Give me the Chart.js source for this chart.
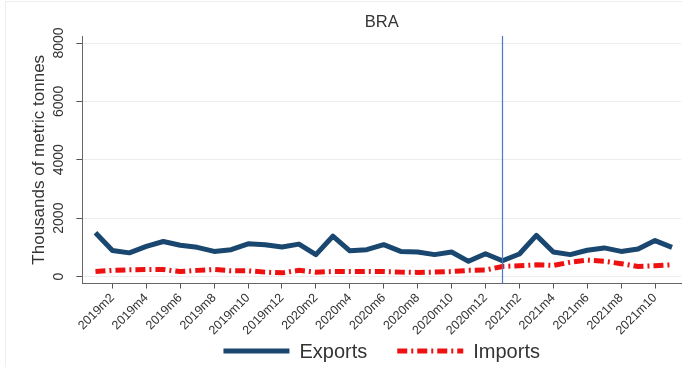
<!DOCTYPE html>
<html>
<head>
<meta charset="utf-8">
<script src="https://cdn.jsdelivr.net/npm/chart.js@4.4.0/dist/chart.umd.min.js"></script>
<style>
  html, body { margin: 0; padding: 0; background: #fff; }
</style>
</head>
<body>
<canvas id="tradeChart" width="682" height="367"></canvas>
<script>
// monthly series, 2019m1 .. 2021m11
var months = [
  '2019m1', '2019m2', '2019m3', '2019m4', '2019m5', '2019m6', '2019m7', '2019m8', '2019m9', '2019m10', '2019m11', '2019m12',
  '2020m1', '2020m2', '2020m3', '2020m4', '2020m5', '2020m6', '2020m7', '2020m8', '2020m9', '2020m10', '2020m11', '2020m12',
  '2021m1', '2021m2', '2021m3', '2021m4', '2021m5', '2021m6', '2021m7', '2021m8', '2021m9', '2021m10', '2021m11'
];
var exportsData = [
  1500, 890, 810, 1030, 1200, 1070, 1000, 860, 920, 1120, 1090, 1010,
  1110, 750, 1380, 880, 920, 1090, 860, 840, 750, 840, 520, 780,
  540, 770, 1410, 840, 750, 900, 980, 860, 940, 1230, 1000
];
var importsData = [
  170, 210, 230, 240, 240, 170, 210, 240, 195, 195, 150, 125,
  210, 150, 170, 170, 170, 170, 150, 140, 150, 170, 210, 220,
  345, 370, 400, 380, 490, 560, 520, 440, 345, 370, 400
];
var yTicks = [0, 2000, 4000, 6000, 8000];
var breakMonth = '2021m1';
var country = 'BRA';

var font = 'Liberation Sans, Arial, sans-serif';
var navy = '#1a476f';
var red = '#ee1111';
var importsDash = [10, 4, 2, 4];

function toPoints(arr) {
    return arr.map((v, i) => ({ x: i, y: v }));
}

// title over the plot region, vertical y labels, break line and legend keys
var stataExtras = {
    id: 'stataExtras',
    beforeDraw: function (chart) {
        var c = chart.ctx;
        c.save();
        c.fillStyle = '#fff';
        c.fillRect(0, 0, chart.width, chart.height);
        c.strokeStyle = '#eeeeee';
        c.lineWidth = 1;
        c.strokeRect(5.5, 1.5, chart.width - 4, chart.height);
        c.restore();
    },
    afterDatasetsDraw: function (chart) {
        var c = chart.ctx;
        var xs = chart.scales.x;
        var area = chart.chartArea;
        var bx = Math.round(xs.getPixelForValue(months.indexOf(breakMonth))) + 0.5;
        c.save();
        c.strokeStyle = '#4a78c8';
        c.lineWidth = 1.2;
        c.beginPath();
        c.moveTo(bx, area.top);
        c.lineTo(bx, area.bottom);
        c.stroke();
        c.restore();
    },
    afterDraw: function (chart) {
        var c = chart.ctx;
        var ys = chart.scales.y;
        var area = chart.chartArea;
        c.save();

        // title
        c.fillStyle = '#333';
        c.font = '16.5px ' + font;
        c.textAlign = 'center';
        c.textBaseline = 'middle';
        c.fillText(country, (area.left + area.right) / 2, 22);

        // y tick labels, rotated
        c.font = '14px ' + font;
        yTicks.forEach(function (t) {
            c.save();
            c.translate(59, ys.getPixelForValue(t));
            c.rotate(-Math.PI / 2);
            c.fillText(String(t), 0, 0);
            c.restore();
        });

        // legend
        var items = [
            { text: 'Exports', color: navy, dash: [] },
            { text: 'Imports', color: red, dash: importsDash }
        ];
        var keyW = 66, gapText = 10, gapItem = 30, ly = 351;
        c.font = '20px ' + font;
        var total = 0;
        items.forEach(function (it) {
            it.w = keyW + gapText + c.measureText(it.text).width;
            total += it.w;
        });
        total += gapItem * (items.length - 1);
        var lx = (area.left + area.right) / 2 - total / 2;
        c.textAlign = 'left';
        items.forEach(function (it) {
            c.strokeStyle = it.color;
            c.lineWidth = 5;
            c.setLineDash(it.dash);
            c.beginPath();
            c.moveTo(lx, ly);
            c.lineTo(lx + keyW, ly);
            c.stroke();
            c.setLineDash([]);
            c.fillStyle = '#333';
            c.fillText(it.text, lx + keyW + gapText, ly + 1);
            lx += it.w + gapItem;
        });
        c.restore();
    }
};

var ctx = document.getElementById('tradeChart').getContext('2d');
var tradeChart = new Chart(ctx, {
    type: 'line',
    data: {
        datasets: [
            {
                label: 'Exports',
                data: toPoints(exportsData),
                borderColor: navy,
                backgroundColor: navy,
                borderWidth: 5,
                pointRadius: 0,
                tension: 0,
                borderJoinStyle: 'round',
                fill: false
            },
            {
                label: 'Imports',
                data: toPoints(importsData),
                borderColor: red,
                backgroundColor: red,
                borderWidth: 5,
                borderDash: importsDash,
                pointRadius: 0,
                tension: 0,
                fill: false
            }
        ]
    },
    options: {
        responsive: false,
        animation: false,
        layout: {
            padding: { left: 20, right: 1, top: 36, bottom: 27 }
        },
        scales: {
            x: {
                type: 'linear',
                min: -0.77,
                max: 34.53,
                afterBuildTicks: function (axis) {
                    var t = [];
                    for (let i = 1; i < months.length; i += 2) t.push({ value: i });
                    axis.ticks = t;
                },
                ticks: {
                    autoSkip: false,
                    minRotation: 45,
                    maxRotation: 45,
                    padding: 2,
                    color: '#333',
                    font: { family: font, size: 12.5 },
                    callback: function (val) {
                        return months[val];
                    }
                },
                grid: {
                    drawOnChartArea: false,
                    drawTicks: true,
                    tickLength: 5,
                    tickColor: '#555'
                },
                border: { color: '#666', width: 1 }
            },
            y: {
                min: -241,
                max: 8241,
                afterBuildTicks: function (axis) {
                    axis.ticks = yTicks.map((v) => ({ value: v }));
                },
                ticks: { display: false },
                grid: {
                    color: '#ececec',
                    lineWidth: 1,
                    drawTicks: true,
                    tickLength: 6,
                    tickColor: '#555'
                },
                border: { color: '#666', width: 1 },
                title: {
                    display: true,
                    text: 'Thousands of metric tonnes',
                    color: '#333',
                    font: { family: font, size: 17 },
                    padding: { top: 9, bottom: 27 }
                }
            }
        },
        plugins: {
            title: { display: false },
            legend: { display: false },
            tooltip: { enabled: false }
        }
    },
    plugins: [stataExtras]
});
</script>
</body>
</html>
